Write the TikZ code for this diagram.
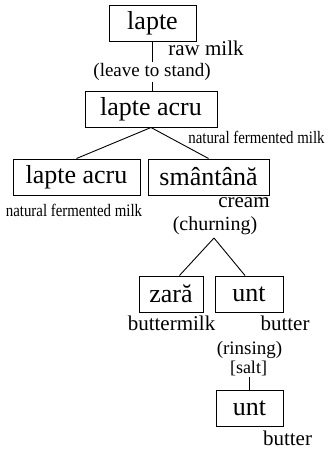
\documentclass[tikz,border=0pt]{standalone}
\usepackage{fontspec}
\setmainfont{Liberation Serif}
\newfontfamily\narrowfont[FakeStretch=0.85]{Liberation Serif}
\usetikzlibrary{calc}
\tikzset{
 boxnode/.style={draw, line width=1pt, inner sep=0pt, minimum height=36pt, font=\fontsize{26}{26}\selectfont},
 lbl/.style={inner sep=0pt, font=\fontsize{21}{21}\selectfont},
 proc/.style={inner sep=1pt, font=\fontsize{19}{19}\selectfont},
 nfm/.style={inner sep=0pt, font=\narrowfont\fontsize{17.5}{17.5}\selectfont},
 conn/.style={line width=0.9pt},
}
\begin{document}
\begin{tikzpicture}[x=1pt,y=-1pt]
\useasboundingbox (0,0) rectangle (327,450);
% boxes
\node[boxnode, minimum width=87pt] (lapte) at (152.5,23) {lapte};
\node[boxnode, minimum width=132pt] (acru) at (151,109) {lapte acru};
\node[boxnode, minimum width=127pt] (acruL) at (76.5,177) {lapte acru};
\node[boxnode, minimum width=121pt] (sman) at (208.5,177) {smântână};
\node[boxnode, minimum width=64pt] (zara) at (171,294) {zară};
\node[boxnode, minimum width=68pt] (unt) at (249,294) {unt};
\node[boxnode, minimum width=67pt] (unt2) at (249.5,408.5) {unt};
% labels
\node[lbl] (raw) at (206,48) {raw milk};
\node[proc] (leave) at (152,72) {(leave to stand)};
\node[nfm] (nfmR) at (256.5,137) {natural fermented milk};
\node[nfm] (nfmL) at (74,210) {natural fermented milk};
\node[lbl] (cream) at (244,203) {cream};
\node[lbl, font=\fontsize{20}{20}\selectfont] (churn) at (215,226) {(churning)};
\node[lbl] (bmilk) at (171.5,323) {buttermilk};
\node[lbl] (butter1) at (285,323) {butter};
\node[proc] (rins) at (249.5,350) {(rinsing)};
\node[proc, font=\fontsize{18}{18}\selectfont] (salt) at (248.5,368) {[salt]};
\node[lbl] (butter2) at (287.5,438) {butter};
% connectors
\coordinate (apex2) at (214,238);
\draw[conn] (lapte.south) -- (lapte.south |- leave.north);
\draw[conn] (lapte.south |- leave.south) -- (lapte.south |- acru.north);
\draw[conn] (acru.south) -- (acruL.north);
\draw[conn] (acru.south) -- (sman.north);
\draw[conn] ($(sman.south)+(3.5,0)$) -- ($(sman.south)+(3.5,0)$ |- churn.north);
\draw[conn] (apex2) -- ($(zara.north)+(8.5,0)$);
\draw[conn] (apex2) -- ($(unt.north)+(-4,0)$);
\draw[conn] ($(unt.south)+(-1,0)$) -- ($(unt.south)+(-1,0)$ |- rins.north);
\draw[conn] (salt.south -| unt2.north) -- (unt2.north);
\end{tikzpicture}
\end{document}
